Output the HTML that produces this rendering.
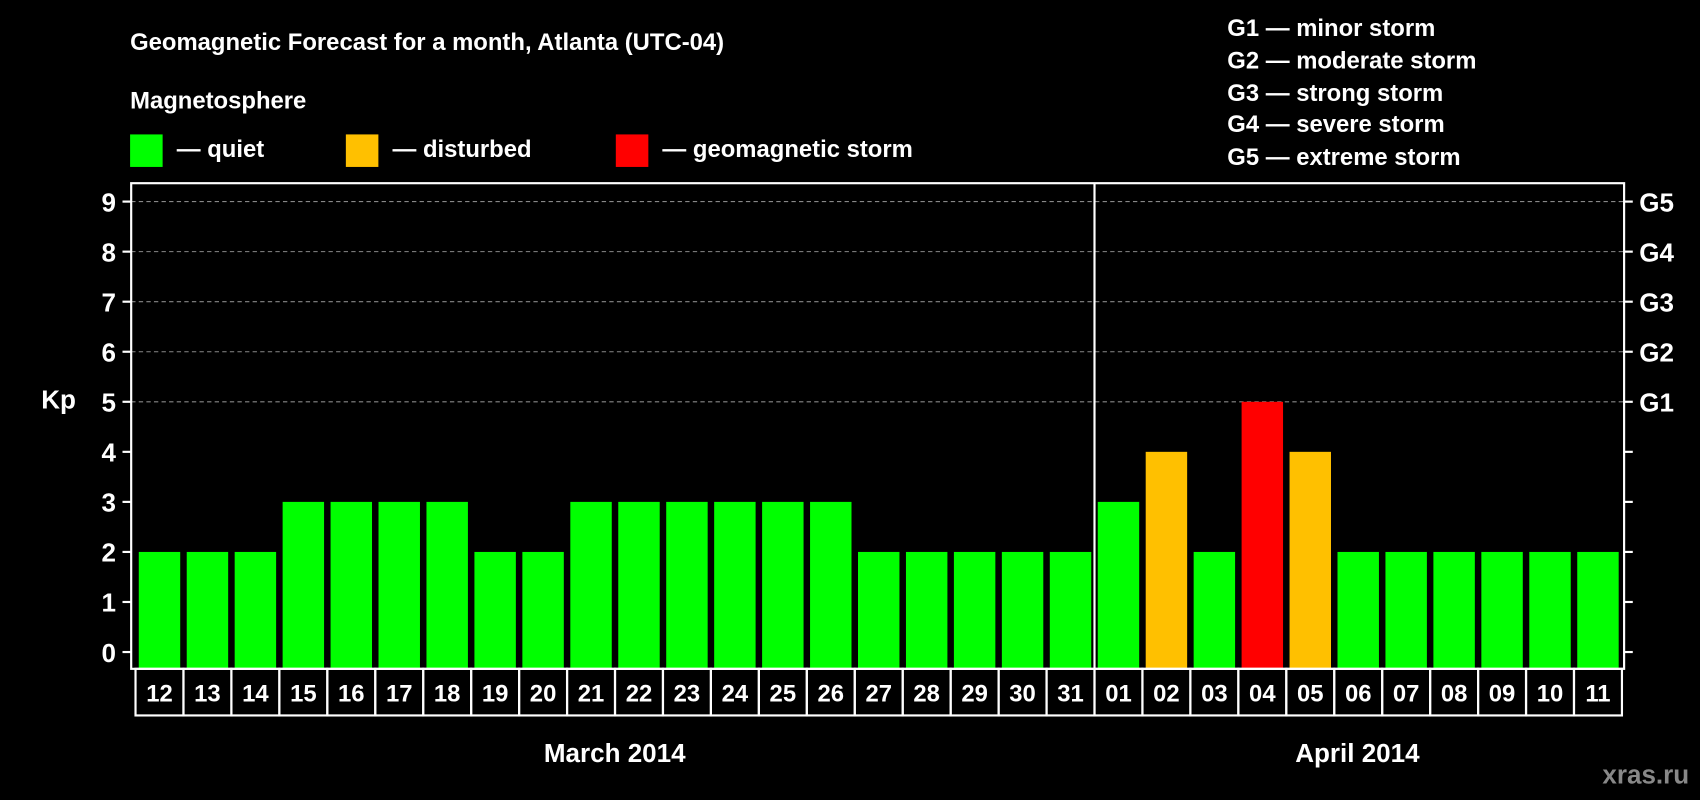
<!DOCTYPE html>
<html><head><meta charset="utf-8"><style>html,body{margin:0;padding:0;background:#000;}svg{display:block;}text{font-family:"Liberation Sans",sans-serif;font-weight:bold;fill:#fff;}</style></head>
<body>
<svg id="chart" width="1700" height="800" viewBox="0 0 1568 738" preserveAspectRatio="none" xmlns="http://www.w3.org/2000/svg">
<rect width="1568" height="738" fill="#000"/>
<text x="120" y="46" font-size="22">Geomagnetic Forecast for a month, Atlanta (UTC-04)</text>
<text x="120" y="100" font-size="22">Magnetosphere</text>
<rect x="120" y="124" width="30" height="30" fill="#00ff00"/>
<text x="163" y="145" font-size="22">— quiet</text>
<rect x="319" y="124" width="30" height="30" fill="#ffc000"/>
<text x="362" y="145" font-size="22">— disturbed</text>
<rect x="568" y="124" width="30" height="30" fill="#ff0000"/>
<text x="611" y="145" font-size="22">— geomagnetic storm</text>
<g font-size="22">
<text x="1132" y="33">G1 — minor storm</text>
<text x="1132" y="63">G2 — moderate storm</text>
<text x="1132" y="93">G3 — strong storm</text>
<text x="1132" y="122">G4 — severe storm</text>
<text x="1132" y="152">G5 — extreme storm</text>
</g>
<text x="38" y="377" font-size="24">Kp</text>
<text x="567" y="703" font-size="24" text-anchor="middle">March 2014</text>
<text x="1252" y="703" font-size="24" text-anchor="middle">April 2014</text>
<text x="1558" y="723" font-size="24" text-anchor="end" style="fill:#888">xras.ru</text>
<g id="plot"></g>
</svg>
<script>
const days = ["12","13","14","15","16","17","18","19","20","21","22","23","24","25","26","27","28","29","30","31","01","02","03","04","05","06","07","08","09","10","11"];
const kpValues = [2,2,2,3,3,3,3,2,2,3,3,3,3,3,3,2,2,2,2,2,3,4,2,5,4,2,2,2,2,2,2];
const yTicks = [0,1,2,3,4,5,6,7,8,9];
const gLabels = ["G1","G2","G3","G4","G5"];
const gLevels = [5,6,7,8,9];

const NS = "http://www.w3.org/2000/svg";
const g = document.getElementById('plot');
const L = 121, R = 1498, T = 169, B = 617;
const colL = 125, colR = 1496;
const y0 = 601.5, perUnit = 46.17;
const yScale = v => y0 - v * perUnit;
const colW = (colR - colL) / days.length;
const xScale = i => colL + i * colW;
function mk(tag, attrs) { const e = document.createElementNS(NS, tag); for (const k in attrs) e.setAttribute(k, attrs[k]); g.appendChild(e); return e; }
function color(v) { return v >= 5 ? "#ff0000" : v >= 4 ? "#ffc000" : "#00ff00"; }

gLevels.forEach(v => {
  const ln = mk('line', {x1: L, x2: R, y1: yScale(v), y2: yScale(v), stroke: "#888", "stroke-width": 1, "stroke-dasharray": "4,3"});
  
  
});
kpValues.forEach((v, i) => {
  const r = mk('rect', {x: xScale(i) + 3, y: yScale(v), width: colW - 6, height: B - yScale(v), fill: color(v)});
  
  
});
const fr = mk('rect', {x: L, y: T, width: R - L, height: B - T, fill: "none", stroke: "#fff", "stroke-width": 2});


const div = mk('line', {x1: xScale(20), x2: xScale(20), y1: T, y2: B, stroke: "#fff", "stroke-width": 2});


yTicks.forEach(v => {
  const tk = mk('line', {x1: L - 8, x2: L, y1: yScale(v), y2: yScale(v), stroke: "#fff", "stroke-width": 2});
  
  
  const tk2 = mk('line', {x1: R, x2: R + 8, y1: yScale(v), y2: yScale(v), stroke: "#fff", "stroke-width": 2});
  
  
  const t = mk('text', {x: 107, y: yScale(v) + 9, "font-size": 24, "text-anchor": "end"});
  t.textContent = v;
  
  
});
gLabels.forEach((s, i) => {
  const t = mk('text', {x: 1512, y: yScale(gLevels[i]) + 9, "font-size": 24});
  t.textContent = s;
  
  
});
days.forEach((d, i) => {
  const c = mk('rect', {x: xScale(i), y: B, width: colW, height: 43, fill: "none", stroke: "#fff", "stroke-width": 2});
  
  
  const t = mk('text', {x: xScale(i) + colW / 2, y: B + 30, "font-size": 22, "text-anchor": "middle"});
  t.textContent = d;
  
  
});
</script>
</body></html>
